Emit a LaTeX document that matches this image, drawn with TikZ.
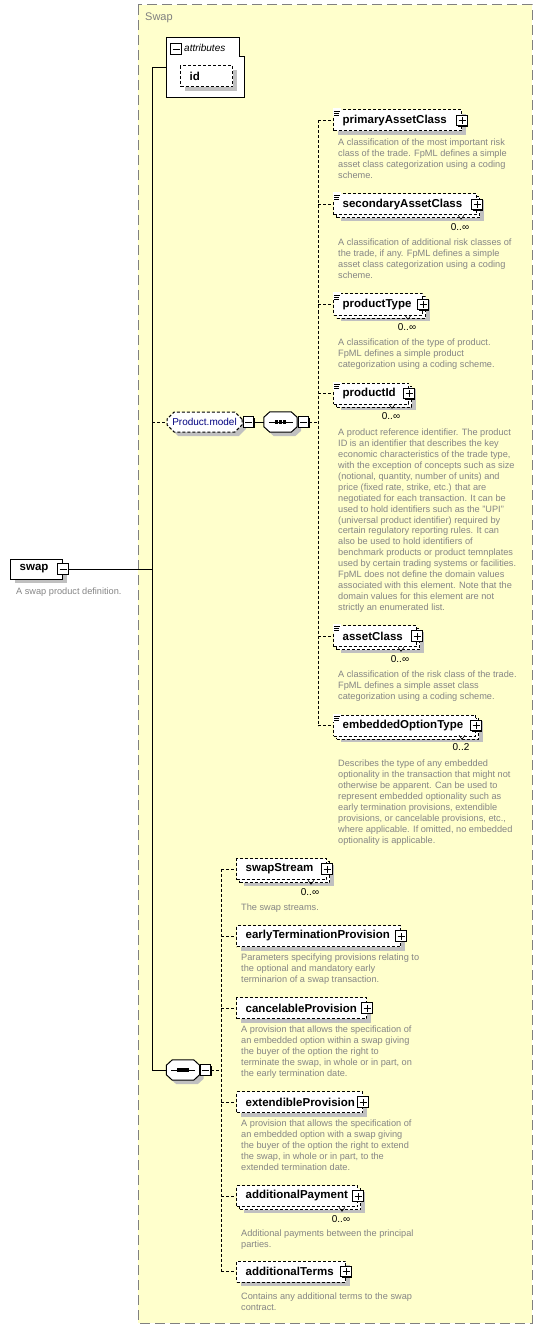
\documentclass[tikz,border=0pt]{standalone}
\usepackage{fontspec}
\setmainfont{Liberation Sans}
\usetikzlibrary{shapes.misc,shadows,calc}
\definecolor{bgyellow}{HTML}{FFFFCC}
\definecolor{framegray}{HTML}{808080}
\definecolor{descgray}{HTML}{858585}
\definecolor{shadowgray}{HTML}{C0C0C0}
\definecolor{modelblue}{HTML}{000080}
\tikzset{
  conn/.style={line width=1pt, black},
  dconn/.style={line width=1pt, black, dash pattern=on 3pt off 2pt},
  optdash/.style={dash pattern=on 3pt off 2pt},
  boxbase/.style={draw=black, line width=1pt, fill=white, anchor=west, minimum height=21pt, inner sep=0pt},
  greyshadow/.style={general shadow={fill=shadowgray, draw=none, shadow xshift=4pt, shadow yshift=-4pt}},
  single/.style={boxbase, optdash, greyshadow},
  multi/.style={boxbase, optdash,
     general shadow={fill=shadowgray, draw=none, shadow xshift=7pt, shadow yshift=-6pt},
     general shadow={fill=white, draw=black, line width=1pt, dash pattern=on 3pt off 2pt, shadow xshift=3pt, shadow yshift=-3pt}},
  nametext/.style={anchor=west, inner sep=0pt, font=\fontsize{11.5}{13}\selectfont\bfseries},
  desc/.style={anchor=north west, inner sep=0pt, align=left, text=descgray, font=\fontsize{9.2}{10.9}\selectfont},
  card/.style={inner sep=0pt, font=\fontsize{10}{12}\selectfont},
  signbox/.style={draw=black, line width=0.8pt, fill=white, minimum size=10.5pt, inner sep=0pt,
     general shadow={fill=black, draw=none, shadow xshift=1pt, shadow yshift=-1pt}},
  plusbox/.style={signbox, path picture={\draw[line width=0.8pt] ([xshift=-3.5pt]path picture bounding box.center) -- ([xshift=3.5pt]path picture bounding box.center) ([yshift=-3.5pt]path picture bounding box.center) -- ([yshift=3.5pt]path picture bounding box.center);}},
  minusbox/.style={signbox, path picture={\draw[line width=0.8pt] ([xshift=-3.5pt]path picture bounding box.center) -- ([xshift=3.5pt]path picture bounding box.center);}},
  seqbox/.style={rectangle, draw=none, minimum width=33pt, minimum height=20pt, inner sep=0pt},
  modelbox/.style={chamfered rectangle, chamfered rectangle xsep=4pt, draw=black, line width=1pt, optdash, fill=white, minimum width=75pt, minimum height=20pt, inner sep=0pt, text=modelblue, font=\fontsize{10}{12}\selectfont, greyshadow},
}
\newcommand\xsdElem[6]{%
  \node[#2, minimum width=#5pt] (#1) at (#3,#4) {};
  \node[nametext] (#1-t) at ([xshift=9.5pt]#1.west) {#6};
  \node[plusbox] (#1-p) at (#1.east) {};
}
\newcommand\xsdIcon[1]{%
  \fill[white] ([xshift=0pt,yshift=1pt]#1.north west) rectangle ([xshift=8pt,yshift=-7pt]#1.north west);
  \draw[line width=0.7pt] ([xshift=1pt,yshift=-1.5pt]#1.north west) -- ([xshift=7pt,yshift=-1.5pt]#1.north west)
    ([xshift=1pt,yshift=-3.5pt]#1.north west) -- ([xshift=6pt,yshift=-3.5pt]#1.north west)
    ([xshift=1pt,yshift=-5.5pt]#1.north west) -- ([xshift=6pt,yshift=-5.5pt]#1.north west);
}
\newcommand\xsdSeq[1]{%
  \draw[line width=1pt, fill=white, greyshadow]
    ([xshift=6pt]#1.north west) -- ([xshift=-6pt]#1.north east) -- ([yshift=-5.5pt]#1.north east)
    -- ([yshift=5.5pt]#1.south east) -- ([xshift=-6pt]#1.south east) -- ([xshift=6pt]#1.south west)
    -- ([yshift=5.5pt]#1.south west) -- ([yshift=-5.5pt]#1.north west) -- cycle;
  \draw[line width=1pt] ([xshift=-12pt]#1.center) -- ([xshift=12pt]#1.center);
  \foreach \dx in {-4pt,0pt,4pt} \fill ([xshift=\dx]#1.center) +(-1.6pt,-1.6pt) rectangle +(1.6pt,1.6pt);
}
\newcommand\xsdTick[1]{%
  \draw[line width=0.6pt] ([xshift=-2pt,yshift=8pt]#1.north) -- ([xshift=1pt,yshift=4pt]#1.north) -- ([xshift=4pt,yshift=8pt]#1.north);
}
\begin{document}
\begin{tikzpicture}[x=1pt,y=-1pt]
\useasboundingbox (0,0) rectangle (543,1329);
% container
\draw[framegray, line width=1pt, dash pattern=on 10pt off 5pt, fill=bgyellow] (138,5) rectangle (532,1323);
\node[anchor=west, inner sep=0pt, text=framegray, font=\fontsize{11}{13}\selectfont] (swaplabel) at (145,18) {Swap};

% attributes
\draw[line width=1pt, fill=white] (166,38) -- (239,38) -- (239,57) -- (244,57) -- (244,98) -- (166,98) -- cycle;
\coordinate (attrw) at (166,68);
\node[minusbox] (attr-m) at (176,49) {};
\node[anchor=west, inner sep=0pt, font=\fontsize{10}{12}\selectfont\itshape] (attr-t) at (184,48) {attributes};
\node[single, minimum width=52pt] (id) at (180,76.5) {};
\node[nametext] (id-t) at ([xshift=9.5pt]id.west) {id};

% swap
\node[boxbase, greyshadow, minimum width=52pt, minimum height=20pt] (swap) at (10,569) {};
\node[nametext] (swap-t) at ([xshift=9.5pt]swap.west) {swap};
\node[minusbox] (swap-m) at (swap.east) {};
\node[desc] (swap-d) at (16,588) {A swap product definition.};

% Product.model group
\node[modelbox] (pm) at (204.5,422) {Product.model};
\node[minusbox] (pm-m) at (248.5,422) {};
\node[seqbox] (seq1) at (280.5,422) {};
\xsdSeq{seq1}
\node[minusbox] (seq1-m) at (303.5,422) {};

\xsdElem{pac}{single}{333}{120.5}{128}{primaryAssetClass}
\xsdIcon{pac}
\node[desc] (pac-d) at (338,139) {A classification of the most important risk\\class of the trade. FpML defines a simple\\asset class categorization using a coding\\scheme.};

\xsdElem{sac}{multi}{333}{204.5}{143}{secondaryAssetClass}
\xsdIcon{sac}
\node[card] (sac-c) at (460,227) {0..∞};
\xsdTick{sac-c}
\node[desc] (sac-d) at (338,239) {A classification of additional risk classes of\\the trade, if any. FpML defines a simple\\asset class categorization using a coding\\scheme.};

\xsdElem{pt}{multi}{333}{304.5}{89}{productType}
\xsdIcon{pt}
\node[card] (pt-c) at (407,327) {0..∞};
\xsdTick{pt-c}
\node[desc] (pt-d) at (338,339) {A classification of the type of product.\\FpML defines a simple product\\categorization using a coding scheme.};

\xsdElem{pid}{multi}{333}{393.5}{75}{productId}
\xsdIcon{pid}
\node[card] (pid-c) at (391,416) {0..∞};
\xsdTick{pid-c}
\node[desc] (pid-d) at (338,429) {A product reference identifier. The product\\ID is an identifier that describes the key\\economic characteristics of the trade type,\\with the exception of concepts such as size\\(notional, quantity, number of units) and\\price (fixed rate, strike, etc.) that are\\negotiated for each transaction. It can be\\used to hold identifiers such as the "UPI"\\(universal product identifier) required by\\certain regulatory reporting rules. It can\\also be used to hold identifiers of\\benchmark products or product temnplates\\used by certain trading systems or facilities.\\FpML does not define the domain values\\associated with this element. Note that the\\domain values for this element are not\\strictly an enumerated list.};

\xsdElem{ac}{multi}{333}{636}{83}{assetClass}
\xsdIcon{ac}
\node[card] (ac-c) at (400,659) {0..∞};
\xsdTick{ac-c}
\node[desc] (ac-d) at (338,671) {A classification of the risk class of the trade.\\FpML defines a simple asset class\\categorization using a coding scheme.};

\xsdElem{eot}{multi}{333}{725.5}{142}{embeddedOptionType}
\xsdIcon{eot}
\node[card] (eot-c) at (461,747) {0..2};
\xsdTick{eot-c}
\node[desc] (eot-d) at (338,760) {Describes the type of any embedded\\optionality in the transaction that might not\\otherwise be apparent. Can be used to\\represent embedded optionality such as\\early termination provisions, extendible\\provisions, or cancelable provisions, etc.,\\where applicable. If omitted, no embedded\\optionality is applicable.};

% second sequence
\node[seqbox] (seq2) at (183,1070) {};
\xsdSeq{seq2}
\node[minusbox] (seq2-m) at (205.5,1070) {};

\xsdElem{ss}{multi}{236}{869}{90}{swapStream}
\node[card] (ss-c) at (310,892) {0..∞};
\xsdTick{ss-c}
\node[desc] (ss-d) at (241,904) {The swap streams.};

\xsdElem{etp}{single}{236}{936}{164}{earlyTerminationProvision}
\node[desc] (etp-d) at (241,954) {Parameters specifying provisions relating to\\the optional and mandatory early\\terminarion of a swap transaction.};

\xsdElem{cp}{single}{236}{1008}{130}{cancelableProvision}
\node[desc] (cp-d) at (241,1026) {A provision that allows the specification of\\an embedded option within a swap giving\\the buyer of the option the right to\\terminate the swap, in whole or in part, on\\the early termination date.};

\xsdElem{ep}{single}{236}{1102}{126}{extendibleProvision}
\node[desc] (ep-d) at (241,1120) {A provision that allows the specification of\\an embedded option with a swap giving\\the buyer of the option the right to extend\\the swap, in whole or in part, to the\\extended termination date.};

\xsdElem{ap}{multi}{236}{1196}{121}{additionalPayment}
\node[card] (ap-c) at (341,1219) {0..∞};
\xsdTick{ap-c}
\node[desc] (ap-d) at (241,1230) {Additional payments between the principal\\parties.};

\xsdElem{at}{single}{236}{1271.5}{109}{additionalTerms}
\node[desc] (at-d) at (241,1293) {Contains any additional terms to the swap\\contract.};

% connectors
\coordinate (j) at (152,569);
\coordinate (v1) at (318,422);
\coordinate (v2) at (221,1070);
\draw[conn] (swap-m.east) -- (j);
\draw[conn] (attrw) -| (j);
\draw[conn] (j) |- (seq2.west);
\draw[dconn] (j |- pm.west) -- (pm.west);
\draw[conn] (pm-m.east) -- (seq1.west);
\draw[dconn] (seq1-m.east) -- (v1);
\draw[dconn] (pac.west -| v1) -- (eot.west -| v1);
\foreach \n in {pac,sac,pt,pid,ac,eot} \draw[dconn] (\n.west -| v1) -- (\n.west);
\draw[dconn] (seq2-m.east) -- (v2);
\draw[dconn] (ss.west -| v2) -- (at.west -| v2);
\foreach \n in {ss,etp,cp,ep,ap,at} \draw[dconn] (\n.west -| v2) -- (\n.west);
\end{tikzpicture}
\end{document}
